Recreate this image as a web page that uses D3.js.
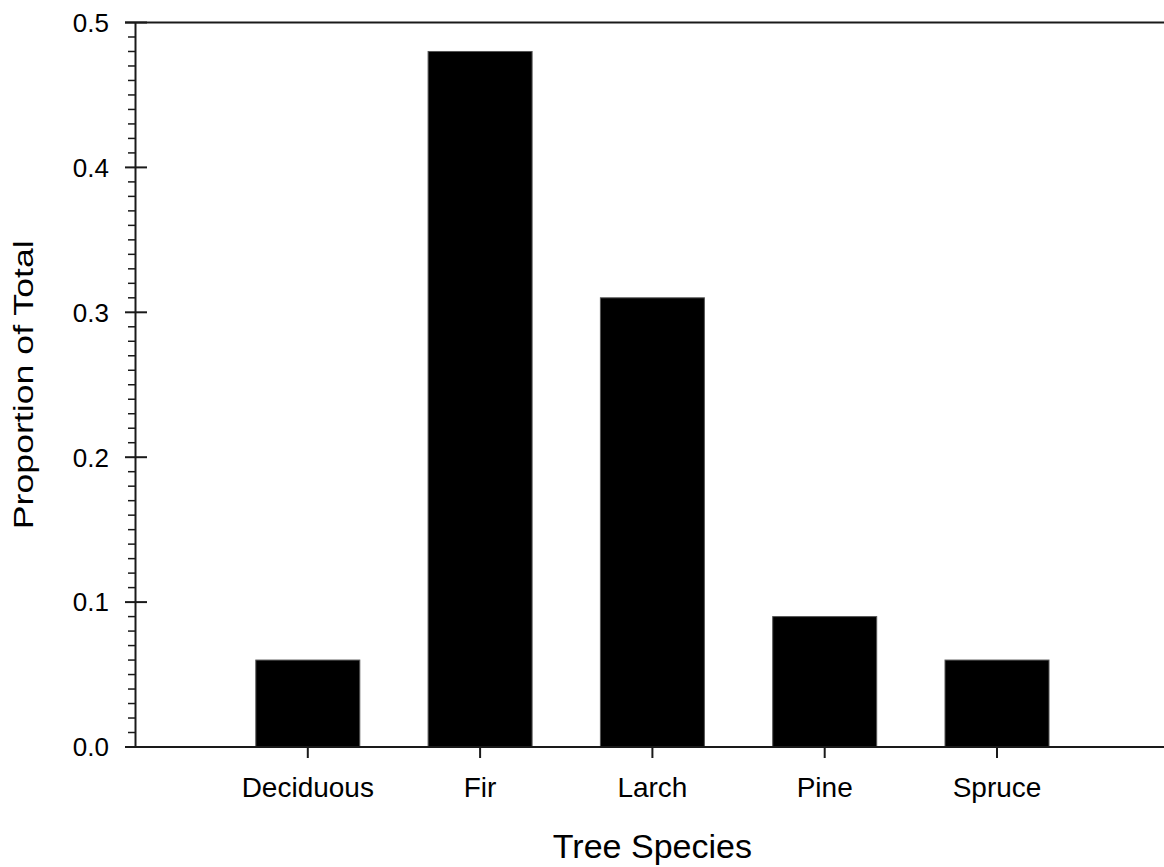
<!DOCTYPE html>
<html><head><meta charset="utf-8">
<script src="https://cdn.jsdelivr.net/npm/d3@7"></script>
<style>body{margin:0;background:#fff}svg{display:block}text{font-family:Arial,"Liberation Sans",sans-serif;fill:#000}</style>
</head><body><div id="chart"></div>
<script>
const categories = ["Deciduous", "Fir", "Larch", "Pine", "Spruce"];
const values = [0.06, 0.48, 0.31, 0.09, 0.06];
const yTicks = [0.0, 0.1, 0.2, 0.3, 0.4, 0.5];
const xTitle = "Tree Species";
const yTitle = "Proportion of Total";

const W = 1164, H = 867;
const svg = d3.select("#chart").append("svg").attr("width", W).attr("height", H);
const x0 = 135.5, step = 172.3;
const y = d3.scaleLinear().domain([0, 0.5]).range([747, 22.5]);
const xPos = d3.scaleLinear().domain([0, 6]).range([x0, x0 + 6 * step]);
const barW = 104;

// bars
svg.selectAll("rect.bar").data(values).enter().append("rect")
  .attr("x", (d, i) => xPos(i + 1) - barW / 2)
  .attr("width", barW)
  .attr("y", d => y(d))
  .attr("height", d => y(0) - y(d))
  .attr("fill", "#000").attr("stroke", "#555").attr("stroke-width", 1);

const ax = "#1a1a1a";
svg.append("line").attr("x1", 125).attr("x2", W).attr("y1", y(0.5)).attr("y2", y(0.5)).attr("stroke", ax).attr("stroke-width", 2);
svg.append("line").attr("x1", 125).attr("x2", W).attr("y1", y(0)).attr("y2", y(0)).attr("stroke", ax).attr("stroke-width", 2);
svg.append("line").attr("x1", x0).attr("x2", x0).attr("y1", y(0.5)).attr("y2", y(0)).attr("stroke", ax).attr("stroke-width", 2);

// minor ticks
const minor = d3.range(0, 51).map(i => i / 100).filter((v, i) => i % 10 !== 0);
svg.selectAll("line.minor").data(minor).enter().append("line")
  .attr("x1", 128).attr("x2", x0).attr("y1", d => y(d)).attr("y2", d => y(d))
  .attr("stroke", ax).attr("stroke-width", 1.5);
// major ticks
svg.selectAll("line.major").data(yTicks).enter().append("line")
  .attr("x1", 125).attr("x2", 147).attr("y1", d => y(d)).attr("y2", d => y(d))
  .attr("stroke", ax).attr("stroke-width", 2);
svg.selectAll("text.yt").data(yTicks).enter().append("text")
  .attr("x", 109).attr("y", d => y(d)).attr("dy", "0.36em")
  .attr("text-anchor", "end").style("font-size", "26px")
  .text(d => d3.format(".1f")(d));

// x ticks and labels
svg.selectAll("line.xt").data(categories).enter().append("line")
  .attr("x1", (d, i) => xPos(i + 1)).attr("x2", (d, i) => xPos(i + 1))
  .attr("y1", y(0)).attr("y2", y(0) + 11)
  .attr("stroke", ax).attr("stroke-width", 2);
svg.selectAll("text.xl").data(categories).enter().append("text")
  .attr("x", (d, i) => xPos(i + 1)).attr("y", 797)
  .attr("text-anchor", "middle").style("font-size", "28px")
  .text(d => d);

// titles
svg.append("text").attr("x", xPos(3)).attr("y", 858)
  .attr("text-anchor", "middle").style("font-size", "34px").text(xTitle);
svg.append("text").attr("transform", `translate(33,${(y(0)+y(0.5))/2}) rotate(-90)`)
  .attr("text-anchor", "middle").style("font-size", "27px")
  .attr("textLength", 289).attr("lengthAdjust", "spacingAndGlyphs")
  .text(yTitle);
</script></body></html>
